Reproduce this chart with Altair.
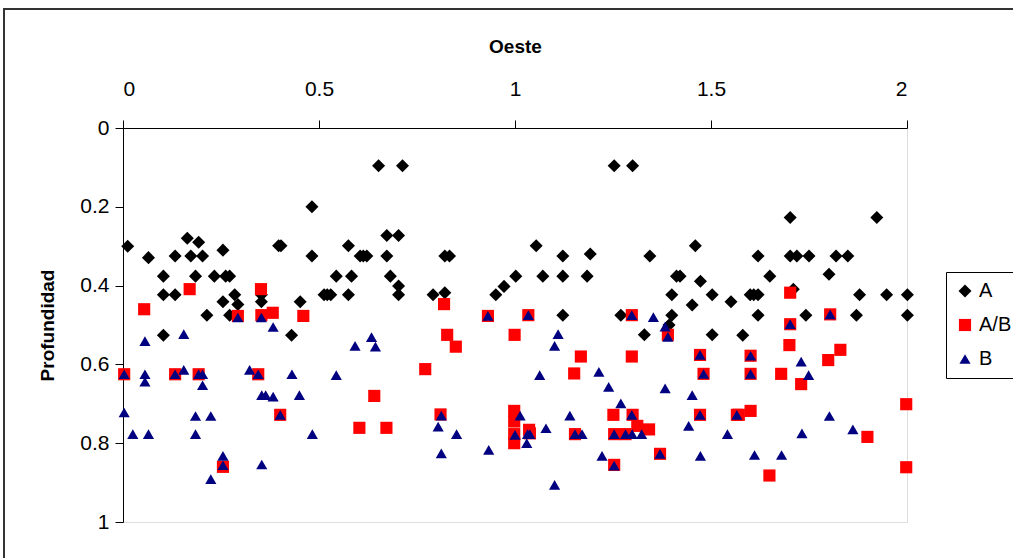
import altair as alt
import pandas as pd

# Series A (black diamonds)
a_x = [0.012, 0.065, 0.103, 0.103, 0.133, 0.133, 0.164, 0.173, 0.193, 0.185, 0.203, 0.214, 0.233,
       0.255, 0.262, 0.272, 0.255, 0.285, 0.293, 0.272, 0.353, 0.353, 0.397, 0.403, 0.452, 0.482,
       0.482, 0.652, 0.713, 0.575, 0.673, 0.703, 0.605, 0.613, 0.622, 0.673, 0.821, 0.833, 0.544,
       0.583, 0.682, 0.703, 0.703, 0.513, 0.521, 0.530, 0.575, 0.791, 0.821, 0.951, 0.972, 1.002,
       1.253, 1.300, 1.054, 1.122, 1.192, 1.344, 1.460, 1.071, 1.122, 1.184, 1.412, 1.421, 1.473,
       1.400, 1.503, 1.551, 1.452, 1.122, 1.270, 1.400, 1.393, 1.330, 1.503, 1.581, 1.702, 1.923,
       1.620, 1.702, 1.719, 1.750, 1.819, 1.849, 1.650, 1.801, 1.600, 1.609, 1.620, 1.710, 1.879,
       1.948, 2.001, 1.620, 1.742, 1.871, 2.001, 0.103, 0.430]
a_y = [0.300, 0.329, 0.376, 0.423, 0.423, 0.325, 0.280, 0.325, 0.290, 0.376, 0.325, 0.475, 0.376,
       0.310, 0.376, 0.376, 0.441, 0.423, 0.448, 0.475, 0.423, 0.441, 0.299, 0.299, 0.441, 0.200,
       0.325, 0.096, 0.096, 0.299, 0.273, 0.273, 0.325, 0.325, 0.325, 0.325, 0.325, 0.325, 0.376,
       0.376, 0.376, 0.401, 0.423, 0.423, 0.423, 0.423, 0.423, 0.423, 0.418, 0.423, 0.402, 0.376,
       0.096, 0.096, 0.299, 0.325, 0.320, 0.325, 0.299, 0.376, 0.376, 0.376, 0.376, 0.376, 0.389,
       0.423, 0.423, 0.441, 0.449, 0.475, 0.475, 0.475, 0.500, 0.525, 0.525, 0.526, 0.227, 0.227,
       0.325, 0.325, 0.325, 0.325, 0.325, 0.325, 0.376, 0.371, 0.423, 0.423, 0.423, 0.409, 0.423,
       0.423, 0.423, 0.475, 0.475, 0.475, 0.475, 0.526, 0.526]

# Series A/B (red squares)
ab_x = [0.054, 0.170, 0.293, 0.352, 0.353, 0.382, 0.460, 0.003, 0.133, 0.193, 0.345, 0.401, 0.255,
        0.819, 0.931, 1.034, 0.827, 0.849, 0.999, 0.771, 0.641, 0.603, 0.672, 0.810, 0.998, 0.998,
        0.998, 0.998, 1.036, 1.298, 1.390, 1.168, 1.298, 1.472, 1.151, 1.481, 1.251, 1.300, 1.472,
        1.566, 1.312, 1.342, 1.038, 1.153, 1.253, 1.282, 1.370, 1.253, 1.702, 1.804, 1.702, 1.700,
        1.601, 1.830, 1.799, 1.601, 1.679, 1.730, 1.998, 1.571, 1.601, 1.899, 1.649, 1.998]
ab_y = [0.460, 0.409, 0.477, 0.409, 0.475, 0.469, 0.477, 0.625, 0.625, 0.625, 0.625, 0.728, 0.860,
        0.447, 0.477, 0.475, 0.525, 0.555, 0.525, 0.612, 0.680, 0.761, 0.761, 0.727, 0.718, 0.745,
        0.777, 0.800, 0.766, 0.475, 0.525, 0.580, 0.580, 0.576, 0.623, 0.624, 0.728, 0.728, 0.728,
        0.728, 0.756, 0.765, 0.775, 0.777, 0.777, 0.777, 0.827, 0.855, 0.418, 0.473, 0.498, 0.551,
        0.578, 0.563, 0.589, 0.624, 0.624, 0.650, 0.701, 0.728, 0.718, 0.784, 0.882, 0.861]

# Series B (navy triangles)
b_x = [0.293, 0.353, 0.383, 0.056, 0.155, 0.003, 0.056, 0.056, 0.133, 0.155, 0.193, 0.203, 0.203,
       0.323, 0.345, 0.431, 0.354, 0.364, 0.383, 0.450, 0.003, 0.185, 0.224, 0.401, 0.025, 0.065,
       0.185, 0.483, 0.255, 0.255, 0.354, 0.224, 0.592, 0.634, 0.644, 0.544, 0.812, 0.804, 0.851,
       0.812, 0.933, 1.013, 1.000, 1.032, 1.038, 1.030, 1.079, 0.931, 1.034, 1.353, 1.383, 1.110,
       1.101, 1.390, 1.472, 1.063, 1.214, 1.481, 1.239, 1.383, 1.452, 1.270, 1.298, 1.140, 1.472,
       1.566, 1.443, 1.542, 1.153, 1.171, 1.253, 1.282, 1.299, 1.323, 1.370, 1.222, 1.473, 1.253,
       1.101, 1.298, 1.702, 1.601, 1.730, 1.601, 1.749, 1.802, 1.732, 1.862, 1.611, 1.680, 1.804]
b_y = [0.481, 0.481, 0.505, 0.541, 0.523, 0.625, 0.625, 0.644, 0.625, 0.614, 0.625, 0.625, 0.653,
       0.614, 0.625, 0.625, 0.678, 0.678, 0.682, 0.678, 0.722, 0.731, 0.731, 0.728, 0.777, 0.777,
       0.777, 0.777, 0.832, 0.856, 0.854, 0.891, 0.553, 0.531, 0.555, 0.627, 0.730, 0.758, 0.777,
       0.826, 0.817, 0.730, 0.779, 0.777, 0.777, 0.800, 0.762, 0.477, 0.475, 0.480, 0.504, 0.523,
       0.553, 0.530, 0.576, 0.627, 0.619, 0.624, 0.657, 0.661, 0.678, 0.699, 0.728, 0.730, 0.728,
       0.728, 0.756, 0.777, 0.777, 0.777, 0.777, 0.777, 0.777, 0.777, 0.827, 0.832, 0.832, 0.857,
       0.906, 0.475, 0.498, 0.578, 0.593, 0.624, 0.627, 0.731, 0.775, 0.765, 0.830, 0.830, 0.473]

series_names = ["A", "A/B", "B"]
series_colors = ["#000000", "#FF0000", "#000080"]
series_shapes = ["diamond", "square", "triangle-up"]
series_sizes = [170, 125, 230]

rows = []
for name, xs, ys in zip(series_names, [a_x, ab_x, b_x], [a_y, ab_y, b_y]):
    for xv, yv in zip(xs, ys):
        rows.append({"Oeste": xv, "Profundidad": yv, "Serie": name})
df = pd.DataFrame(rows)

FONT = "Liberation Sans"

points = alt.Chart(df).mark_point(filled=True, opacity=1, strokeWidth=0).encode(
    x=alt.X("Oeste:Q",
            scale=alt.Scale(domain=[0, 2], nice=False, zero=False),
            axis=alt.Axis(orient="top", values=[0, 0.5, 1, 1.5, 2], format="~g",
                          title="Oeste", titleFontSize=19, titleFontWeight="bold",
                          titlePadding=22, labelFontSize=21, labelPadding=21,
                          tickSize=8, grid=False, domainColor="black", tickColor="black",
                          labelColor="black", titleColor="black", labelFont=FONT, titleFont=FONT)),
    y=alt.Y("Profundidad:Q",
            scale=alt.Scale(domain=[0, 1], reverse=True, nice=False, zero=False),
            axis=alt.Axis(values=[0, 0.2, 0.4, 0.6, 0.8, 1], format="~g",
                          title="Profundidad", titleFontSize=19, titleFontWeight="bold",
                          titlePadding=22, labelFontSize=21, labelPadding=6,
                          tickSize=8, grid=False, domainColor="black", tickColor="black",
                          labelColor="black", titleColor="black", labelFont=FONT, titleFont=FONT)),
    color=alt.Color("Serie:N", scale=alt.Scale(domain=series_names, range=series_colors),
                    legend=alt.Legend(title=None, orient="none", legendX=823, legendY=144,
                                      strokeColor="black", fillColor="white", padding=9,
                                      labelFontSize=20, labelFont=FONT, labelColor="black",
                                      symbolSize=100, rowPadding=14, labelOffset=4,
                                      symbolStrokeWidth=0)),
    shape=alt.Shape("Serie:N", scale=alt.Scale(domain=series_names, range=series_shapes),
                    legend=None),
    size=alt.Size("Serie:N", scale=alt.Scale(domain=series_names, range=series_sizes),
                  legend=None),
    order=alt.Order("order:Q"),
).transform_calculate(order="datum.Serie == 'A' ? 0 : (datum.Serie == 'A/B' ? 1 : 2)")

frame = alt.Chart(pd.DataFrame({"k": [0]})).mark_rect(
    fill=None, stroke="#333333", strokeWidth=2, clip=False
).encode(x=alt.value(-119), x2=alt.value(900), y=alt.value(-119), y2=alt.value(450))

chart = alt.layer(frame, points).properties(
    width=784, height=394,
    autosize=alt.AutoSizeParams(type="none"),
    padding={"left": 123, "top": 128, "right": 106, "bottom": 36},
).configure_view(stroke=None).configure(font=FONT, background="white")

chart.save("out.html", embed_options={"renderer": "svg", "actions": False})
